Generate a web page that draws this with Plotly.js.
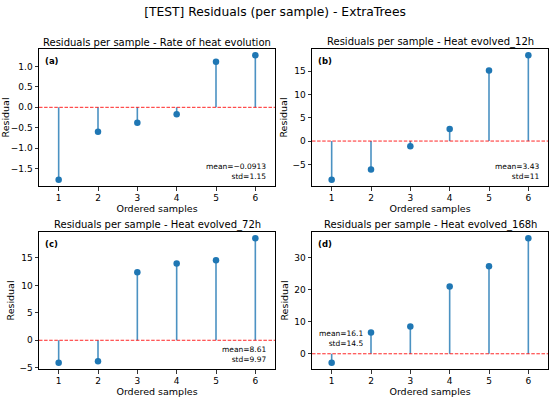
<!DOCTYPE html>
<html>
<head>
<meta charset="utf-8">
<script src="https://cdn.plot.ly/plotly-3.0.1.min.js"></script>
<style>html,body{margin:0;padding:0;background:#fff}#chart{width:550px;height:398px}</style>
</head>
<body>
<div id="chart"></div>
<script>
// ---- data ----
const samples = [1, 2, 3, 4, 5, 6];
const resRate = [-1.78, -0.60, -0.38, -0.17, 1.12, 1.28];
const res12h = [-8.3, -6.1, -1.1, 2.6, 15.1, 18.4];
const res72h = [-4.1, -3.8, 12.4, 14.0, 14.6, 18.6];
const res168h = [-2.8, 6.6, 8.5, 21.0, 27.3, 36.0];
const panelTitles = [
  "Residuals per sample - Rate of heat evolution",
  "Residuals per sample - Heat evolved_12h",
  "Residuals per sample - Heat evolved_72h",
  "Residuals per sample - Heat evolved_168h"
];
const panelLabels = ["(a)", "(b)", "(c)", "(d)"];
const statTexts = [
  "mean=\u22120.0913<br>std=1.15",
  "mean=3.43<br>std=11",
  "mean=8.61<br>std=9.97",
  "mean=16.1<br>std=14.5"
];
const yDticks = [0.5, 5, 5, 10];
const suptitle = "[TEST] Residuals (per sample) - ExtraTrees";
const xTitle = "Ordered samples";
const yTitle = "Residual";

const series = [resRate, res12h, res72h, res168h];

// ---- layout geometry (pixels) ----
const W = 550, H = 398;
const boxes = [
  {l: 39, r: 275, t: 49, b: 186},
  {l: 312, r: 548, t: 49, b: 186},
  {l: 39, r: 275, t: 232, b: 369},
  {l: 312, r: 548, t: 232, b: 369}
];
const statPos = [
  {x: 0.97, y: 0.02, xa: 'right', ya: 'bottom'},
  {x: 0.97, y: 0.02, xa: 'right', ya: 'bottom'},
  {x: 0.97, y: 0.02, xa: 'right', ya: 'bottom'},
  {x: 0.225, y: 0.14, xa: 'right', ya: 'bottom'}
];

const FONT = "DejaVu Sans, sans-serif";
const blue = "#1f77b4";
const traces = [];
const layout = {
  width: W, height: H,
  margin: {l: 0, r: 0, t: 0, b: 0},
  paper_bgcolor: "#fff", plot_bgcolor: "#fff",
  showlegend: false,
  font: {family: FONT, color: "#000", size: 9},
  title: {text: suptitle, x: 0.5, xanchor: 'center', y: 1 - 12 / H, yanchor: 'middle',
          font: {family: FONT, size: 12.3, color: "#000"}},
  annotations: [], shapes: []
};

series.forEach((vals, i) => {
  const n = i + 1;
  const xa = n === 1 ? 'x' : 'x' + n;
  const ya = n === 1 ? 'y' : 'y' + n;
  const sx = [], sy = [];
  samples.forEach((s, k) => { sx.push(s, s, null); sy.push(0, vals[k], null); });
  traces.push({x: sx, y: sy, xaxis: xa, yaxis: ya, mode: 'lines', type: 'scatter',
    line: {color: blue, width: 1.6}, opacity: 0.8, hoverinfo: 'skip'});
  traces.push({x: samples, y: vals, xaxis: xa, yaxis: ya, mode: 'markers', type: 'scatter',
    marker: {color: blue, size: 6.5}});
  const mn = Math.min(0, ...vals), mx = Math.max(0, ...vals);
  const pad = (mx - mn) * 0.05;
  const b = boxes[i];
  const axBase = {
    showline: true, mirror: true, linecolor: "#000", linewidth: 1,
    ticks: 'outside', ticklen: 3.5, tickwidth: 0.8, tickcolor: "#000",
    showgrid: false, zeroline: false, tickfont: {family: FONT, size: 9, color: "#000"}
  };
  layout['xaxis' + (n === 1 ? '' : n)] = Object.assign({}, axBase, {
    domain: [b.l / W, b.r / W], anchor: ya, range: [0.5, 6.5],
    tickmode: 'array', tickvals: samples, ticktext: samples.map(String),
    title: {text: xTitle, standoff: 2, font: {family: FONT, size: 9.5, color: "#000"}}
  });
  layout['yaxis' + (n === 1 ? '' : n)] = Object.assign({}, axBase, {
    domain: [1 - b.b / H, 1 - b.t / H], anchor: xa, range: [mn - pad, mx + pad],
    dtick: yDticks[i], tick0: 0, tickformat: i === 0 ? '.1f' : '',
    title: {text: yTitle, standoff: 3, font: {family: FONT, size: 9.5, color: "#000"}}
  });
  layout.shapes.push({type: 'line', xref: xa + ' domain', yref: ya, x0: 0, x1: 1, y0: 0, y1: 0,
    line: {color: 'red', width: 1, dash: '3.5px,1.6px'}, opacity: 0.85});
  layout.annotations.push({text: panelTitles[i], xref: 'paper', yref: 'paper',
    x: (b.l + b.r) / 2 / W, y: 1 - (b.t - 7) / H, xanchor: 'center', yanchor: 'middle',
    showarrow: false, font: {family: FONT, size: 10, color: "#000"}});
  layout.annotations.push({text: '<b>' + panelLabels[i] + '</b>', xref: xa + ' domain', yref: ya + ' domain',
    x: 0.015, y: 0.965, xanchor: 'left', yanchor: 'top', showarrow: false,
    font: {family: FONT, size: 8.5, color: "#000"}});
  const sp = statPos[i];
  layout.annotations.push({text: statTexts[i], xref: xa + ' domain', yref: ya + ' domain',
    x: sp.x, y: sp.y, xanchor: sp.xa, yanchor: sp.ya, align: 'right', showarrow: false,
    font: {family: FONT, size: 7.5, color: "#000"}});
});

Plotly.newPlot('chart', traces, layout, {displayModeBar: false, staticPlot: true});
</script>
</body>
</html>
